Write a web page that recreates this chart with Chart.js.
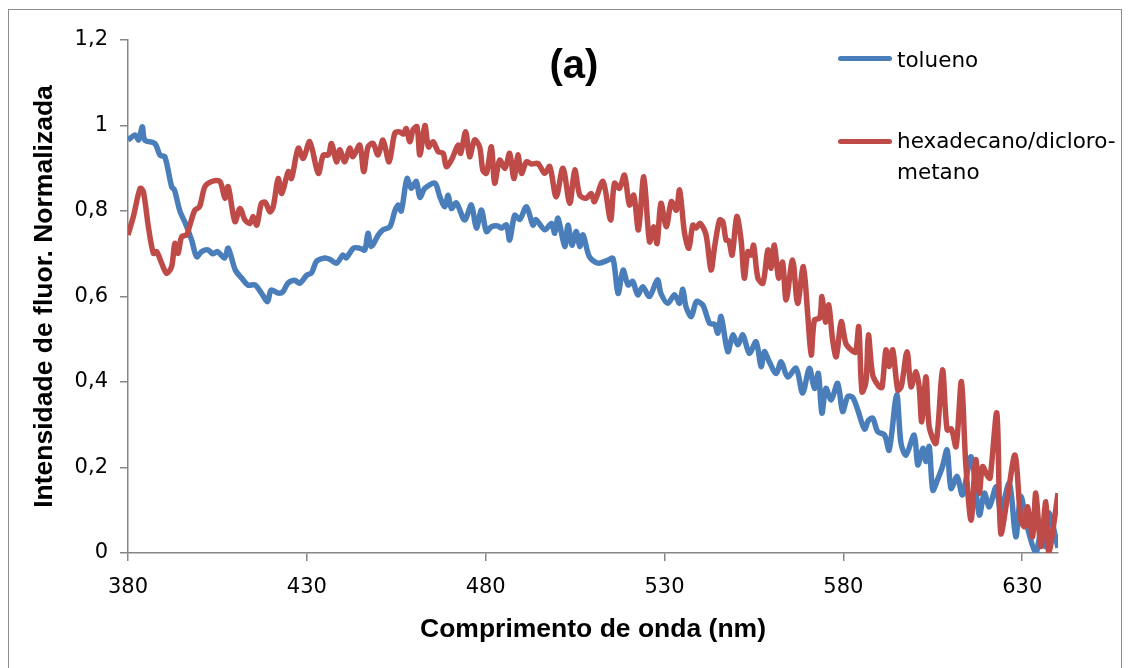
<!DOCTYPE html>
<html>
<head>
<meta charset="utf-8">
<script src="https://cdn.jsdelivr.net/npm/chart.js@4.4.1/dist/chart.umd.min.js"></script>
<style>
  body { margin: 0; background: #fff; }
  #wrap { position: relative; width: 1130px; height: 668px; overflow: hidden; }
  #frame { position: absolute; left: 8px; top: 9px; width: 1114px; height: 700px; border: 1px solid #8c8c8c; box-sizing: border-box; }
  #myChart { position: absolute; left: 0; top: 0; }
  #titulo { position: absolute; left: 524px; top: 40px; width: 100px; text-align: center; font: bold 40px "Liberation Sans", Arial, sans-serif; line-height: 48px; color: #000; }
  .leg { position: absolute; left: 838px; font: 21.5px "DejaVu Sans", sans-serif; color: #000; }
  .leg .ln { position: absolute; left: 0; width: 54px; height: 5px; border-radius: 3px; }
  .leg .tx { position: absolute; left: 59px; white-space: nowrap; line-height: 31px; }
</style>
</head>
<body>
<div id="wrap">
  <div id="frame"></div>
  <canvas id="myChart" width="1130" height="668"></canvas>
  <div id="titulo">(a)</div>
  <div class="leg" style="top:56px"><div class="ln" style="background:#4A7EBB"></div><div class="tx" style="top:-12px">tolueno</div></div>
  <div class="leg" style="top:139px"><div class="ln" style="background:#BE4B48"></div><div class="tx" style="top:-14px">hexadecano/dicloro-<br>metano</div></div>
</div>
<script>
// eixo x (nm) e valores
const toluenoNm = [380,382,383,384,384.7,387.5,389,390.3,392.2,393,394.5,396,397.8,399.2,400.6,402.4,403.7,405,407,408,
  410,411.8,413.5,415.5,417.3,419,420,422,423.3,424.7,426.6,428,430,431.3,432.7,435,436.4,438.3,440.1,441,
  443,444.8,446.2,447.1,448,450,451.3,453.2,454.6,455.5,456.4,458,459.2,460.6,461.6,463,465.8,467.2,468.6,469.5,
  470.4,471.8,474.1,476,477.4,478.8,480.2,481.6,483.4,484.4,485.8,486.7,488.1,489.5,491.4,493.2,494,496.5,498.4,499.3,
  500.2,502.1,503,504.1,505.3,506.3,507.2,509,511.4,514.2,515.6,517,518.4,519.8,521.1,522.5,523.9,525.8,528,529,
  530.9,532.8,534.2,535.1,536,537.5,538.9,540.7,542.6,544,544.9,545.8,547.7,549.1,550.5,551.9,553.7,555.6,557,557.9,
  559.3,561.2,562.6,564.4,566.8,568.6,570.5,571.9,573,574,575.1,576.6,578.4,579.8,581.2,582.6,584,585.9,587,588.2,
  589.6,591.5,592.8,594.9,596.1,597.5,599.8,600.8,602.2,603.1,604,605,606.3,607.7,609,610.1,611.8,613.3,615.7,618,
  619.4,620.8,622.7,624,626.4,628.2,629.6,631.4,633.8,635.2,636.6,637.5,640];
const toluenoVal = [0.966,0.978,0.966,0.997,0.966,0.958,0.93,0.927,0.857,0.849,0.80,0.772,0.732,0.693,0.705,0.709,0.70,0.705,0.69,0.713,
  0.662,0.643,0.627,0.627,0.608,0.588,0.615,0.608,0.611,0.631,0.638,0.631,0.65,0.655,0.682,0.69,0.687,0.678,0.697,0.69,
  0.713,0.713,0.709,0.748,0.717,0.744,0.756,0.763,0.80,0.814,0.80,0.876,0.853,0.869,0.832,0.853,0.865,0.833,0.81,0.837,
  0.806,0.819,0.779,0.814,0.76,0.802,0.752,0.763,0.765,0.76,0.767,0.732,0.79,0.78,0.81,0.767,0.78,0.756,0.771,0.748,
  0.783,0.717,0.767,0.72,0.752,0.717,0.744,0.693,0.678,0.685,0.689,0.607,0.662,0.627,0.635,0.604,0.623,0.60,0.639,0.607,
  0.584,0.604,0.584,0.617,0.576,0.553,0.588,0.58,0.537,0.535,0.514,0.553,0.471,0.51,0.487,0.51,0.467,0.494,0.436,0.471,
  0.447,0.42,0.447,0.412,0.432,0.374,0.432,0.385,0.42,0.327,0.385,0.358,0.397,0.331,0.366,0.364,0.335,0.29,0.31,0.315,
  0.284,0.276,0.241,0.37,0.257,0.229,0.276,0.206,0.245,0.214,0.249,0.147,0.171,0.202,0.241,0.151,0.179,0.136,0.225,0.089,
  0.14,0.108,0.155,0.10,0.163,0.038,0.132,0.062,0.0,0.046,0.015,0.094,0.012];

const hexNm = [380,381.5,383.4,384.3,385.7,387.1,388,389.4,390.8,392.2,393.1,394,395,396.4,397.3,398.7,400,401.5,403.4,405.7,
  407.1,408,409.9,411.3,412.7,414.1,415,416,417.3,418.4,419.7,420.6,422,423,424.8,425.7,427.6,429,430.8,433.2,
  434.6,436,436.9,438.3,439.2,440.6,442,442.9,444.8,445.9,447.1,448.5,449.9,451.3,453,454.6,456,457,457.8,458.8,
  459.7,460.8,461.6,463,464,465.3,466.7,468.1,469,470.4,472.3,473,474.4,475.5,476.9,478.3,479.2,480.2,481.6,482.5,
  483.9,485.4,486.7,487.9,489,490,491.4,492.8,494.6,496.5,497.9,499.7,501.6,503.5,504.9,506.3,508.1,509.5,510.4,512.8,
  514.9,516,517.4,518.8,520.2,521.4,522.7,524.2,525.8,527,527.9,529,530.5,531.9,533.3,534.2,535.6,536.8,537.9,538.8,
  540,541.6,543,544,545.4,546.3,547.2,548,548.9,550.2,551.4,552.3,553.3,554.2,554.9,556.1,557.5,558.9,559.8,560.7,
  561.9,563,564,565.8,567.2,568.8,570,571,571.9,573.4,574,575,575.9,577,578,579.4,580.7,582.2,583.4,584.3,
  585.2,586.3,587,588.2,590,590.8,591.9,592.8,593.8,595.2,596.2,597.8,598.9,600.3,601.2,601.9,603.1,604,605.9,607.7,
  609,610.2,611.5,613,614.2,615.7,617,618,618.9,620.3,621,622.9,624,625.9,628,629.6,630.6,631.5,632.9,633.8,
  635.2,636.6,637.4,638,640];
const hexVal = [0.744,0.787,0.853,0.845,0.763,0.701,0.705,0.678,0.654,0.67,0.724,0.701,0.74,0.744,0.767,0.802,0.81,0.857,0.869,0.869,
  0.83,0.857,0.775,0.806,0.779,0.771,0.787,0.767,0.818,0.82,0.798,0.81,0.876,0.841,0.892,0.876,0.947,0.923,0.962,0.888,
  0.931,0.931,0.958,0.915,0.943,0.915,0.947,0.927,0.954,0.892,0.95,0.958,0.931,0.966,0.915,0.982,0.985,0.98,0.993,0.962,
  0.99,0.997,0.931,1.0,0.95,0.962,0.939,0.935,0.904,0.919,0.954,0.935,0.985,0.927,0.966,0.95,0.896,0.888,0.95,0.865,
  0.919,0.90,0.935,0.876,0.931,0.888,0.915,0.91,0.911,0.888,0.904,0.833,0.90,0.818,0.896,0.837,0.83,0.841,0.822,0.869,
  0.779,0.865,0.853,0.884,0.814,0.837,0.756,0.88,0.728,0.763,0.724,0.818,0.763,0.822,0.802,0.849,0.748,0.713,0.767,0.76,
  0.771,0.744,0.662,0.717,0.779,0.775,0.732,0.73,0.697,0.787,0.732,0.643,0.705,0.697,0.72,0.643,0.631,0.709,0.666,0.72,
  0.643,0.68,0.592,0.685,0.584,0.67,0.561,0.463,0.545,0.55,0.60,0.54,0.58,0.498,0.459,0.541,0.49,0.475,0.47,0.529,
  0.377,0.40,0.51,0.416,0.389,0.387,0.475,0.436,0.475,0.381,0.39,0.471,0.389,0.424,0.387,0.307,0.412,0.295,0.257,0.428,
  0.288,0.29,0.249,0.401,0.21,0.077,0.218,0.14,0.202,0.18,0.175,0.327,0.046,0.132,0.229,0.077,0.062,0.108,0.038,0.14,
  0.015,0.12,0.0,0.02,0.14];

const xTicks = [380, 430, 480, 530, 580, 630];
const yTicks = [0, 0.2, 0.4, 0.6, 0.8, 1, 1.2];
const yTickLabels = ['0', '0,2', '0,4', '0,6', '0,8', '1', '1,2'];

const eixoCor = '#868686';
const tickFont = { family: 'DejaVu Sans', size: 21 };
const titleFont = { family: 'Liberation Sans', size: 26.5, weight: 'bold' };

const ctx = document.getElementById('myChart');
new Chart(ctx, {
  type: 'line',
  data: {
    datasets: [{
      label: 'tolueno',
      data: toluenoNm.map((x, i) => ({ x: x, y: toluenoVal[i] })),
      borderColor: '#4A7EBB',
      borderWidth: 5.5,
      pointRadius: 0,
      tension: 0.3,
      order: 2
    }, {
      label: 'hexadecano/dicloro-metano',
      data: hexNm.map((x, i) => ({ x: x, y: hexVal[i] })),
      borderColor: '#BE4B48',
      borderWidth: 5.5,
      pointRadius: 0,
      tension: 0.3,
      order: 1
    }]
  },
  options: {
    responsive: false,
    animation: false,
    layout: { padding: { top: 40, right: 72, left: 0, bottom: 0 } },
    plugins: {
      legend: { display: false },
      tooltip: { enabled: false }
    },
    scales: {
      x: {
        type: 'linear',
        min: 380,
        max: 640,
        afterBuildTicks: (s) => { s.ticks = xTicks.map(v => ({ value: v })); },
        afterFit: (s) => { s.height = 115; },
        grid: { drawOnChartArea: false, tickLength: 8, color: eixoCor, lineWidth: 1.5 },
        border: { color: eixoCor, width: 1.5 },
        ticks: { color: '#000', font: tickFont, padding: 14, maxRotation: 0 },
        title: { display: true, text: 'Comprimento de onda (nm)', color: '#000', font: titleFont, padding: { top: 0, bottom: 22 } }
      },
      y: {
        min: 0,
        max: 1.2,
        afterBuildTicks: (s) => { s.ticks = yTicks.map(v => ({ value: v })); },
        afterFit: (s) => { s.width = 128; },
        grid: { drawOnChartArea: false, tickLength: 8, color: eixoCor, lineWidth: 1.5 },
        border: { color: eixoCor, width: 1.5 },
        ticks: { color: '#000', font: tickFont, padding: 12, callback: (v, i) => yTickLabels[i] },
        title: { display: true, text: 'Intensidade de fluor. Normalizada', color: '#000', font: titleFont, padding: { top: 29, bottom: 0 } }
      }
    }
  }
});
</script>
</body>
</html>
